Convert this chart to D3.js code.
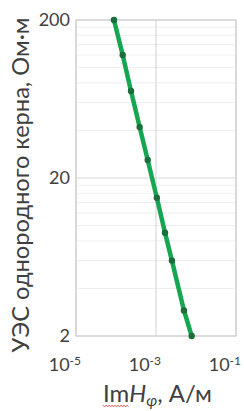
<!DOCTYPE html>
<html>
<head>
<meta charset="utf-8">
<script src="https://cdn.jsdelivr.net/npm/d3@7"></script>
<style>
  body { margin: 0; background: #fff; }
  svg { display: block; font-family: Lato, "Liberation Sans", sans-serif; }
</style>
</head>
<body>
<svg id="chart"></svg>
<script>
const svgWidth = 244;
const svgHeight = 411;

// curve points: Im H_phi (A/m) vs resistivity (Ohm*m)
const imH = [8.9e-5, 1.47e-4, 2.37e-4, 3.9e-4, 6.2e-4, 1.05e-3, 1.68e-3, 2.5e-3, 5.0e-3, 7.8e-3];
const rho = [200, 120, 71, 42, 26, 15, 9, 6, 2.9, 2];

const xTicks = [1e-5, 1e-3, 1e-1];
const xTickExp = ["-5", "-3", "-1"];
const yTicks = [2, 20, 200];
// minor gridlines the way Excel spaces them on a log axis starting at 2
const yMinor = [4, 6, 8, 10, 12, 14, 16, 18, 40, 60, 80, 100, 120, 140, 160, 180];

const margin = { top: 20, right: 8, bottom: 75, left: 76 };
const width = 236 - margin.left;
const height = 336 - margin.top;

const svg = d3.select("#chart")
  .attr("width", svgWidth)
  .attr("height", svgHeight);

const g = svg.append("g")
  .attr("transform", `translate(${margin.left},${margin.top})`);

const x = d3.scaleLog().domain([1e-5, 1e-1]).range([0, width]);
const y = d3.scaleLog().domain([2, 200]).range([height, 0]);

// minor horizontal grid
g.selectAll(".minor")
  .data(yMinor)
  .enter().append("line")
  .attr("class", "minor")
  .attr("x1", 0).attr("x2", width)
  .attr("y1", d => y(d)).attr("y2", d => y(d))
  .attr("stroke", "#eeeeee")
  .attr("stroke-width", 1);

// major grid
g.selectAll(".hmajor")
  .data(yTicks)
  .enter().append("line")
  .attr("x1", 0).attr("x2", width)
  .attr("y1", d => y(d)).attr("y2", d => y(d))
  .attr("stroke", "#d9d9d9")
  .attr("stroke-width", 1.2);

g.selectAll(".vmajor")
  .data(xTicks)
  .enter().append("line")
  .attr("x1", d => x(d)).attr("x2", d => x(d))
  .attr("y1", 0).attr("y2", height)
  .attr("stroke", "#d9d9d9")
  .attr("stroke-width", 1.2);

// plot frame
g.append("rect")
  .attr("width", width)
  .attr("height", height)
  .attr("fill", "none")
  .attr("stroke", "#d0d0d0")
  .attr("stroke-width", 1.2);

// y tick labels
g.selectAll(".ylab")
  .data(yTicks)
  .enter().append("text")
  .attr("x", -6)
  .attr("y", d => y(d))
  .attr("dy", "0.35em")
  .attr("text-anchor", "end")
  .attr("fill", "#404040")
  .style("font-size", "18px")
  .text(d => d);

// x tick labels, 10 with superscript exponent
const xl = g.selectAll(".xlab")
  .data(xTicks)
  .enter().append("text")
  .attr("x", d => x(d) + 5)
  .attr("y", height + 35)
  .attr("text-anchor", "end")
  .attr("fill", "#404040")
  .style("font-size", "18px");
xl.append("tspan").text("10");
xl.append("tspan")
  .attr("dy", -6)
  .style("font-size", "12px")
  .text((d, i) => xTickExp[i]);

// the curve
const line = d3.line()
  .x((d, i) => x(imH[i]))
  .y(d => y(d));

g.append("path")
  .datum(rho)
  .attr("d", line)
  .attr("fill", "none")
  .attr("stroke", "#16a651")
  .attr("stroke-width", 4.5)
  .attr("stroke-linecap", "round");

g.selectAll(".dot")
  .data(rho)
  .enter().append("circle")
  .attr("cx", (d, i) => x(imH[i]))
  .attr("cy", d => y(d))
  .attr("r", 3.2)
  .attr("fill", "#1b6e3a");

// y axis title, fitted to the height it takes in the picture
const yTitle = svg.append("text")
  .attr("transform", "translate(29,185) rotate(-90)")
  .attr("text-anchor", "middle")
  .attr("fill", "#404040")
  .style("font-size", "18px")
  .text("УЭС однородного керна, Ом·м");
const len = yTitle.node().getComputedTextLength();
yTitle.style("font-size", (18 * 335 / len).toFixed(2) + "px");

// x axis title, fitted to x 103..212
const xTitle = svg.append("text")
  .attr("x", 103)
  .attr("y", 402)
  .attr("fill", "#404040")
  .style("font-size", "18px");
const tIm = xTitle.append("tspan").text("Im");
xTitle.append("tspan").style("font-style", "italic").text("H");
const tSub = xTitle.append("tspan")
  .attr("dy", 4)
  .style("font-style", "italic")
  .style("font-size", "12px")
  .text("φ");
xTitle.append("tspan").attr("dy", -4).text(", А/м");
const k = 109 / xTitle.node().getComputedTextLength();
xTitle.style("font-size", (18 * k).toFixed(2) + "px");
tSub.style("font-size", (12 * k).toFixed(2) + "px");

// red squiggle under "Im" as in the source screenshot
const imW = tIm.node().getComputedTextLength();
let sq = `M103,405`;
for (let s = 0; s < Math.round(imW / 1.5); s++) {
  sq += ` l1.5,${s % 2 ? -2 : 2}`;
}
svg.append("path")
  .attr("d", sq)
  .attr("fill", "none")
  .attr("stroke", "#e05050")
  .attr("stroke-width", 0.8);
</script>
</body>
</html>
